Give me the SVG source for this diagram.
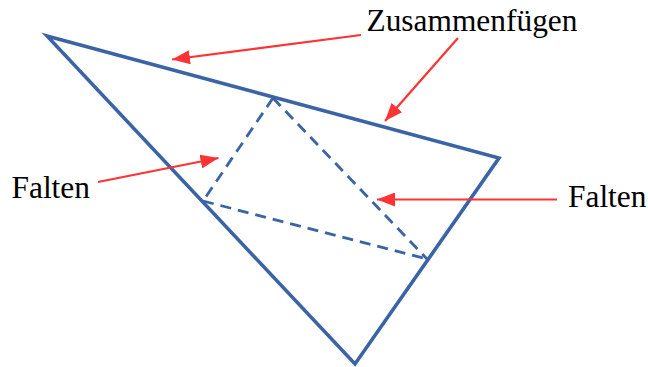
<svg xmlns="http://www.w3.org/2000/svg" width="648" height="367" viewBox="0 0 648 367">
<style>
.edge{fill:none;stroke:#3A64A5;stroke-width:3.6;stroke-linejoin:miter;stroke-linecap:round}
.fold{fill:none;stroke:#3A64A5;stroke-width:2.8;stroke-dasharray:11 7}
.arr{fill:none;stroke:#FF3333;stroke-width:2.2}
.lbl{font-family:"Liberation Serif","Times New Roman",serif;font-size:31.4px;fill:#000}
</style>
<defs>
<marker id="ah" markerUnits="userSpaceOnUse" markerWidth="20" markerHeight="14" refX="18" refY="7" orient="auto">
<path d="M0,0 L18,7 L0,14 Z" fill="#FF3333"/>
</marker>
</defs>
<g id="triangle">
<path class="edge" d="M47,36 L499,158 L355,364 Z"/>
</g>
<g id="folds">
<line class="fold" x1="273" y1="98" x2="203" y2="201"/>
<line class="fold" x1="273" y1="98" x2="427" y2="259"/>
<line class="fold" x1="203" y1="201" x2="427" y2="259"/>
</g>
<g id="connectors">
<line class="arr" x1="361" y1="35" x2="172" y2="59.5" marker-end="url(#ah)"/>
<line class="arr" x1="458" y1="38" x2="385" y2="121" marker-end="url(#ah)"/>
<line class="arr" x1="98" y1="182" x2="218.5" y2="158" marker-end="url(#ah)"/>
<line class="arr" x1="557" y1="199.5" x2="377" y2="199.5" marker-end="url(#ah)"/>
</g>
<g id="label-zusammenfuegen"><text class="lbl" x="366.5" y="30.7">Zusammenfügen</text></g>
<g id="label-falten-left"><text class="lbl" x="11.5" y="198.3">Falten</text></g>
<g id="label-falten-right"><text class="lbl" x="568" y="207.3">Falten</text></g>
</svg>
